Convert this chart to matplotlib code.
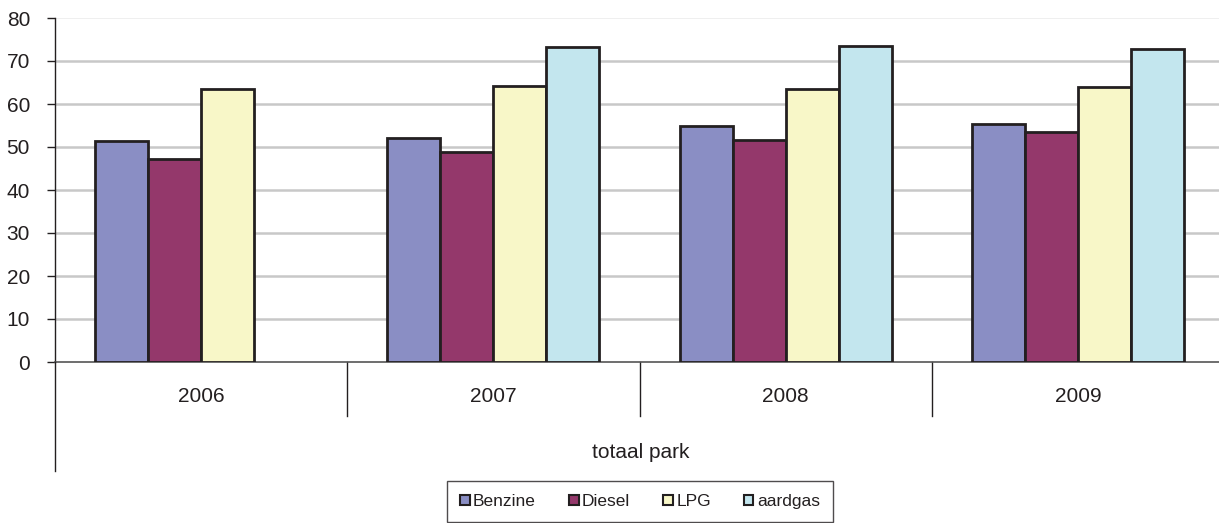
import numpy as np
import matplotlib
matplotlib.use("Agg")
import matplotlib.pyplot as plt
from matplotlib.patches import Patch
from matplotlib.lines import Line2D
import matplotlib.transforms as mtransforms

plt.rcParams['font.family'] = ['Liberation Sans', 'DejaVu Sans']

years = ["2006", "2007", "2008", "2009"]
group_label = "totaal park"
series_names = ["Benzine", "Diesel", "LPG", "aardgas"]
benzine = [51.3, 52.0, 55.0, 55.4]
diesel = [47.1, 48.8, 51.7, 53.4]
lpg = [63.6, 64.3, 63.6, 64.0]
aardgas = [np.nan, 73.3, 73.4, 72.8]
colors = ["#8a8ec4", "#94386b", "#f8f7c8", "#c3e6ee"]
yticks = [0, 10, 20, 30, 40, 50, 60, 70, 80]

W, H = 1219, 523
fig = plt.figure(figsize=(W / 100, H / 100), dpi=100)
left_px, right_px, top_px, bot_px = 55, 1224, 18, 362
ax = fig.add_axes([left_px / W, 1 - bot_px / H, (right_px - left_px) / W, (bot_px - top_px) / H])

x = np.arange(len(years))
bw = 53 / 292
series = [benzine, diesel, lpg, aardgas]
for i, (vals, c) in enumerate(zip(series, colors)):
    ax.bar(x + (i - 1.5) * bw, vals, width=bw, color=c, edgecolor="#231f20",
           linewidth=2, zorder=3)

ax.set_xlim(-0.5, len(years) - 0.5)
ax.set_ylim(0, 80)
ax.set_yticks(yticks)
ax.set_yticklabels([str(t) for t in yticks], fontsize=15, color="#231f20")
ax.tick_params(axis='y', length=6, width=1, color="#231f20", pad=12)
ax.set_xticks([])
for yv in yticks[1:-1]:
    ax.axhline(yv, color="#c8c8c8", lw=1.8, zorder=1)
ax.axhline(80, color="#ececec", lw=1.2, zorder=1)

for s in ["top", "right"]:
    ax.spines[s].set_visible(False)
ax.spines["bottom"].set_color("#555555")
ax.spines["bottom"].set_linewidth(1.2)
ax.spines["left"].set_color("#231f20")
ax.spines["left"].set_linewidth(1)

# multi-level category axis
trans = mtransforms.blended_transform_factory(ax.transData, fig.transFigure)
for b in [0.5, 1.5, 2.5]:
    ax.add_line(Line2D([b, b], [1 - bot_px / H, 1 - 416 / H], transform=trans,
                       color="#231f20", lw=1, clip_on=False))
fig.add_artist(Line2D([left_px / W, left_px / W], [1 - bot_px / H, 1 - 471 / H],
                      transform=fig.transFigure, color="#231f20", lw=1))
for xi, yr in zip(x, years):
    ax.text(xi, 1 - 397 / H, yr, transform=trans, ha="center", va="center",
            fontsize=15, color="#231f20")
fig.text(641 / W, 1 - 452 / H, group_label, ha="center", va="center",
         fontsize=15, color="#231f20")

handles = [Patch(facecolor=c, edgecolor="#231f20", lw=1.5) for c in colors]
leg = fig.legend(handles, series_names, loc="upper center", ncol=4,
                 bbox_to_anchor=(640 / W, 1 - 481 / H), fontsize=12.5,
                 frameon=True, fancybox=False, edgecolor="#231f20",
                 handlelength=0.55, handleheight=0.55, handletextpad=0.2,
                 columnspacing=1.9, borderpad=0.75, borderaxespad=0)
leg.get_frame().set_linewidth(1)
for t in leg.get_texts():
    t.set_color("#231f20")

fig.savefig("out.png", dpi=100)
